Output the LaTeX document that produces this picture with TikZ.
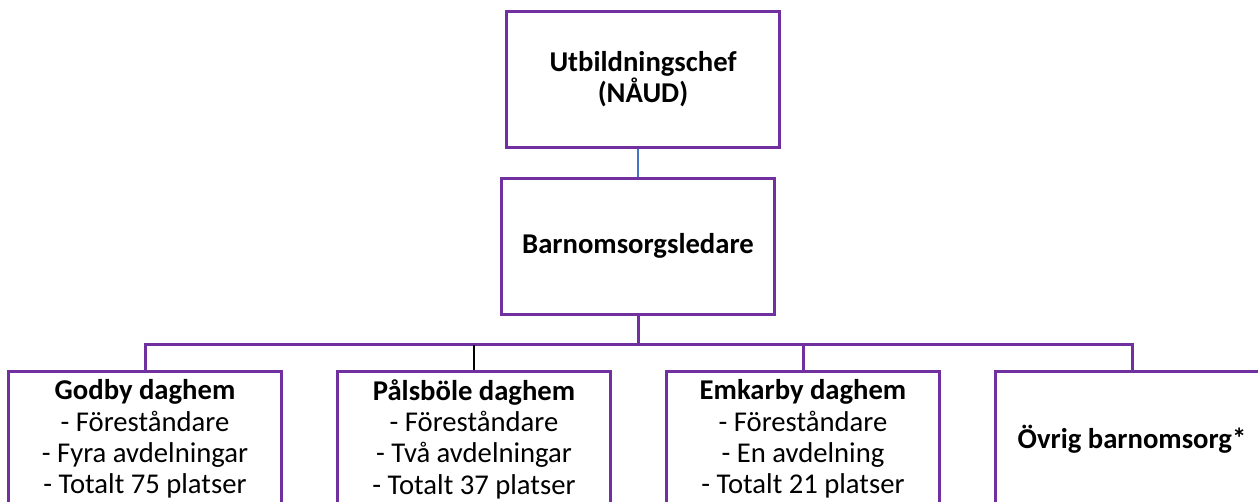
\documentclass[tikz,border=0pt]{standalone}
\usepackage{fontspec}
\setmainfont{Carlito}
\usepackage{tikz}
\usetikzlibrary{positioning}
\definecolor{lila}{HTML}{7030A0}
\definecolor{linje}{HTML}{4472C4}
\tikzset{
  base/.style={draw=lila, on grid, align=center, line width=2.25pt, inner sep=0pt,
    minimum width=204.75pt, minimum height=102pt, font={\fontsize{21.5}{23.5}\selectfont}},
  box/.style={base, rectangle},
  % connector line styles
  bus/.style={draw, lila, line width=2.25pt},
  thin/.style={draw, linje, line width=1pt},
  dark/.style={draw, black, line width=1.5pt}
}

\begin{document}
\begin{tikzpicture}[node distance=144.75pt and 123pt]
% -------------------------------------------------
% page frame (1258 x 501 px)
\clip (0,0) rectangle (943.5pt,-375.75pt);
\useasboundingbox (0,0) rectangle (943.5pt,-375.75pt);

% -------------------------------------------------
% Start by placing the nodes
\node [box] (ledare) at (478.5pt,-184.5pt) {\textbf{Barnomsorgsledare}};
\node [box, above=125.25pt of ledare, xshift=3.75pt] (chef) {
    \textbf{Utbildningschef}\\
    \textbf{(NÅUD)}
};
\node [box, below left=of ledare] (pals) {
    \textbf{Pålsböle daghem}\\
    - Föreståndare\\
    - Två avdelningar\\
    - Totalt 37 platser
};
\node [box, left=246.75pt of pals] (godby) {
    \textbf{Godby daghem}\\
    - Föreståndare\\
    - Fyra avdelningar\\
    - Totalt 75 platser
};
\node [box, right=246.75pt of pals] (emkarby) {
    \textbf{Emkarby daghem}\\
    - Föreståndare\\
    - En avdelning\\
    - Totalt 21 platser
};
\node [box, right=246.75pt of emkarby] (ovrig) {\textbf{Övrig barnomsorg*}};

% -------------------------------------------------
% connectors
\coordinate (bus) at ([yshift=-21.75pt]ledare.south);
\draw [thin] (chef.south -| ledare.north) -- (ledare.north);
\draw [bus] (godby.north) -- (godby.north |- bus) -- (ovrig.north |- bus) -- (ovrig.north);
\draw [bus] (ledare.south) -- (bus);
\draw [bus] (emkarby.north) -- (emkarby.north |- bus);
\draw [dark] (pals.north) -- (pals.north |- bus);

\end{tikzpicture}
\end{document}
